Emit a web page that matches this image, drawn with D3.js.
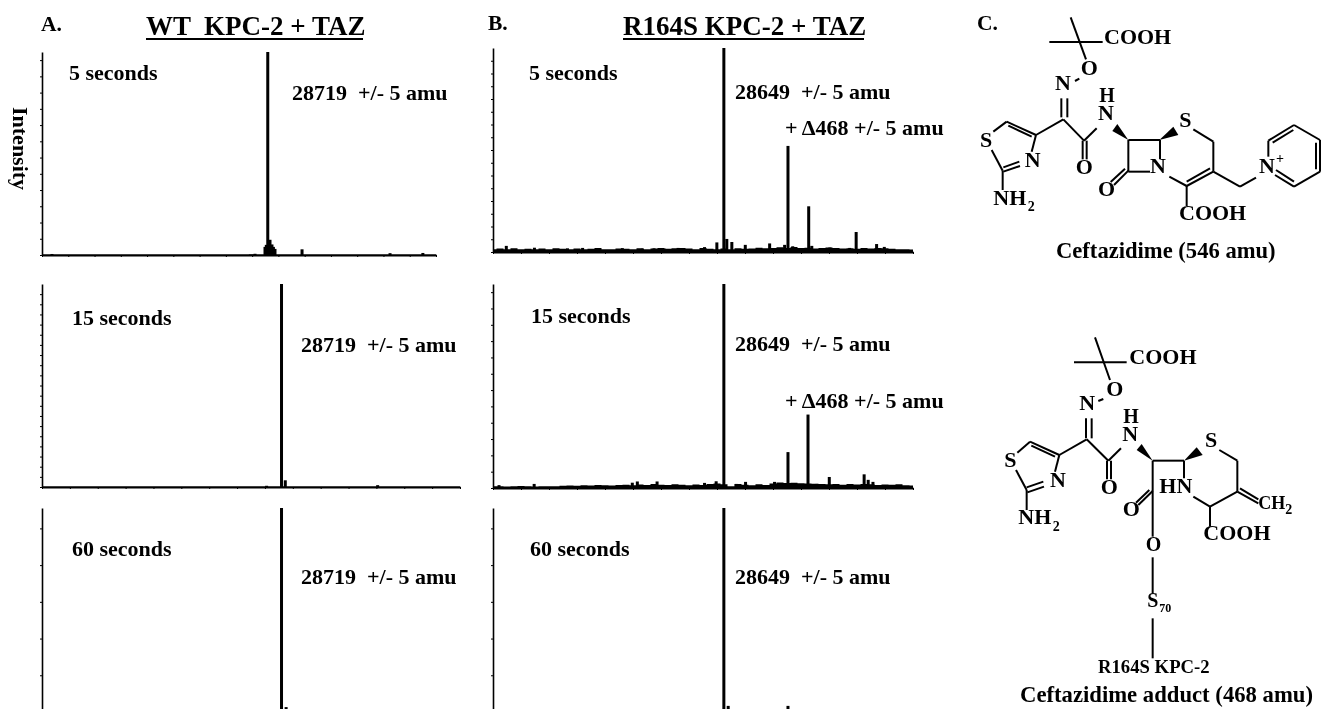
<!DOCTYPE html>
<html>
<head>
<meta charset="utf-8">
<script src="https://cdn.jsdelivr.net/npm/d3@7"></script>
<style>
  html, body { margin: 0; padding: 0; background: #fff; overflow: hidden; }
  svg { display: block; filter: blur(0.4px); }
  text { font-family: "Liberation Serif", serif; font-weight: bold; fill: #000; white-space: pre; }
  .axis path, .axis line { stroke: #000; }
  .axis text { display: none; }
</style>
</head>
<body>
<div id="chart"></div>
<script>
// peaks are [mass in amu, % of the tallest peak]
var peaksA5 = [[27076,0.5],[28622,0.6],[28698,4],[28708,5],[28719,100],[28736,7.5],[28751,5.2],[28762,4],[28774,3],[28980,2.8],[29650,0.9],[29900,1]];
var peaksA15 = [[28612,0.6],[28719,100],[28746,3.3],[29409,0.9]];
var peaksA60 = [[28719,100],[28752,2.4],[28900,1.4],[29300,1.2]];
var peaksB5 = [[27095,3],[27296,2.1],[27532,1.8],[27640,2],[27924,1.9],[28067,1.6],[28150,1.8],[28225,1.6],[28322,2],
  [28511,2.4],[28599,4.7],[28649,100],[28670,6.4],[28706,4.9],[28802,3.5],[28976,4.2],[29083,3.5],[29107,52],[29141,2.8],
  [29255,22.4],[29277,3],[29406,2.2],[29548,2],[29594,9.8],[29642,1.8],[29740,3.9],[29795,2.5]];
var peaksB15 = [[27043,1.4],[27294,2],[27995,2.6],[28031,3.2],[28172,3.2],[28511,2.5],[28594,3.3],[28649,100],[28738,2],
  [28804,3],[29011,3],[29107,17.6],[29131,2.4],[29250,36],[29313,2],[29402,5.4],[29453,1.5],[29651,6.7],[29680,4],
  [29714,3],[29893,1.2]];
var peaksB60 = [[28649,100],[28680,3],[29107,3]];

// chemical noise floor, one reading per 50 amu from 27000 to 30000
var noiseA5 = [0.2,0.2,0.3,0.2,0.2,0.3,0.2,0.2,0.2,0.3,0.2,0.2,0.3,0.2,0.2,0.2,0.3,0.2,0.2,0.2,0.2,0.3,0.2,0.2,0.2,0.2,0.3,0.2,0.2,0.2,0.3,0.3,0.4,0.3,0.2,0.3,0.2,0.2,0.3,0.2,0.2,0.2,0.3,0.2,0.2,0.3,0.2,0.3,0.2,0.2,0.2,0.3,0.2,0.3,0.2,0.2,0.2,0.3,0.2,0.2,0.2];
var noiseA15 = [0.2,0.2,0.2,0.3,0.2,0.2,0.2,0.2,0.3,0.2,0.2,0.2,0.2,0.2,0.3,0.2,0.2,0.2,0.2,0.2,0.3,0.2,0.2,0.2,0.2,0.3,0.2,0.2,0.2,0.2,0.2,0.2,0.3,0.2,0.2,0.2,0.2,0.3,0.2,0.2,0.2,0.2,0.2,0.3,0.2,0.2,0.2,0.2,0.3,0.2,0.2,0.2,0.2,0.2,0.3,0.2,0.2,0.2,0.2,0.2,0.2];
var noiseA60 = [1.2,1.4,1.5,1.4,1.2,1.4,1.5,1.2,1.3,1.5,1.2,1.5,1.4,1.2,1.5,1.3,1.2,1.5,1.4,1.2,1.2,1.5,1.4,1.2,1.5,1.3,1.2,1.5,1.3,1.2,1.5,1.5,1.4,1.5,1.5,1.4,1.2,1.5,1.5,1.3,1.2,1.5,1.4,1.2,1.5,1.5,1.2,1.3,1.5,1.4,1.2,1.5,1.3,1.2,1.5,1.4,1.2,1.5,1.3,1.2,1.2];
var noiseB5 = [1.3,1.7,1.4,1.8,1.3,1.6,1.4,1.7,1.3,1.8,1.6,1.3,1.7,1.4,1.6,1.9,1.4,1.3,1.7,1.6,1.3,1.8,1.4,1.7,1.9,1.6,1.8,2,1.7,1.4,1.9,1.6,1.4,1.7,1.3,1.8,1.6,1.7,2.1,1.8,1.9,2.3,2,2.4,1.9,2.1,1.7,2,2.2,1.9,1.7,1.8,1.6,1.9,1.7,2,1.8,1.6,1.4,1.3,1.2];
var noiseB15 = [0.8,0.9,0.7,0.8,1,0.8,0.7,0.9,0.8,0.9,1.1,1.2,1.1,1.4,1.2,1.5,1.3,1.2,1.5,1.6,1.4,1.7,1.5,1.9,1.6,1.5,1.8,1.6,1.4,1.7,1.5,1.9,2.2,1.8,0.9,1.9,1.6,1.4,1.8,1.5,2.2,2.7,2.4,2.6,2.3,2.2,2.1,1.9,1.8,2,1.6,1.9,1.7,2,1.8,1.5,1.7,1.6,1.8,1.4,1.2];
var noiseB60 = [1.2,1.5,1.4,1.2,1.5,1.4,1.2,1.5,1.4,1.2,1.5,1.4,1.5,1.2,1.4,1.5,1.2,1.5,1.4,1.2,1.5,1.5,1.4,1.2,1.5,1.5,1.4,1.2,1.5,1.4,1.2,1.5,1.5,1.4,1.2,1.5,1.4,1.5,1.2,1.4,1.5,1.5,1.2,1.4,1.5,1.5,1.4,1.2,1.5,1.5,1.4,1.2,1.5,1.4,1.5,1.2,1.4,1.5,1.2,1.4,1.2];

var massTicks = d3.range(27000, 30001, 200);
var noiseMasses = d3.range(27000, 30001, 50);

// layout of each spectrum: left/right of the mass axis, baseline, top of the tallest peak
var panels = [
  {peaks: peaksA5, noise: noiseA5, left: 42, right: 436, base: 255, top: 52, yStep: 8, w: 3},
  {peaks: peaksA15, noise: noiseA15, left: 42, right: 460, base: 487, top: 284, yStep: 5, w: 3},
  {peaks: peaksA60, noise: noiseA60, left: 42, right: 460, base: 712, top: 508, yStep: 18, w: 3},
  {peaks: peaksB5, noise: noiseB5, left: 493, right: 913, base: 252, top: 48, yStep: 6.25, w: 3},
  {peaks: peaksB15, noise: noiseB15, left: 493, right: 913, base: 488, top: 284, yStep: 8, w: 3},
  {peaks: peaksB60, noise: noiseB60, left: 493, right: 913, base: 712, top: 508, yStep: 18, w: 3}
];

var labels = [
  ['A.', 41, 31, 21.5], ['B.', 488, 30, 21.5], ['C.', 977, 30, 21.5],
  ['WT  KPC-2 + TAZ', 146, 35, 27], ['R164S KPC-2 + TAZ', 623, 35, 27],
  ['5 seconds', 69, 80, 22], ['28719  +/- 5 amu', 292, 100, 22],
  ['15 seconds', 72, 325, 22], ['28719  +/- 5 amu', 301, 352, 22],
  ['60 seconds', 72, 556, 22], ['28719  +/- 5 amu', 301, 584, 22],
  ['5 seconds', 529, 80, 22], ['28649  +/- 5 amu', 735, 99, 22], ['+ \u0394468 +/- 5 amu', 785, 135, 22],
  ['15 seconds', 531, 323, 22], ['28649  +/- 5 amu', 735, 351, 22], ['+ \u0394468 +/- 5 amu', 785, 408, 22],
  ['60 seconds', 530, 556, 22], ['28649  +/- 5 amu', 735, 584, 22],
  ['Ceftazidime (546 amu)', 1056, 258, 22.6], ['Ceftazidime adduct (468 amu)', 1020, 702, 22.7],
  ['R164S KPC-2', 1098, 673, 18.7]
];
var titleRules = [[146, 363, 39], [623, 864, 39]];

// ceftazidime drawing, bonds as [x1,y1,x2,y2] in 3x units from the structure's corner
var bondsFree = [
  [332,52,378,178],[268,126,428,126],[345,243,358,236],[304,295,304,352],[322,295,322,352],
  [100,395,140,365],[140,365,228,405],[145,377,215,410],[228,405,215,455],[130,502,178,485],[130,515,180,498],
  [95,450,128,512],[128,512,128,570],[228,405,310,358],[310,358,372,422],[368,422,368,478],[380,422,380,478],
  [372,422,410,385],[505,420,600,420],[505,420,505,515],[600,420,600,478],[505,515,570,515],[505,512,462,555],[495,506,452,546],
  [700,388,760,425],[760,425,760,515],[760,515,680,558],[750,505,680,545],[680,558,628,530],[680,558,680,618],
  [760,515,840,560],[840,560,888,533],[925,422,925,470],[925,422,1002,375],[1002,375,1080,420],[1080,420,1080,515],
  [1080,515,1002,560],[1002,560,945,525],[938,428,1000,390],[1068,428,1068,508],[948,510,1002,545]
];
var wedgesFree = [[505,420,457,393,472,372],[598,420,640,380,655,405]];
var atomsFree = [
  ['COOH',432,132,66],['O',362,224,66],['N',285,269,66],['H',418,307,60],['N',414,360,66],['S',60,441,66],['N',194,500,66],
  ['NH',100,614,66],['O',347,522,66],['O',414,587,66],['N',570,520,66],['S',658,381,66],['COOH',657,660,66],['N',897,520,66],
  ['+',948,490,42],['2',203,632,42]
];

var bondsAdduct = [
  [405,22,450,150],[342,97,500,97],[415,213,430,207],[378,265,378,325],[395,265,395,325],
  [172,368,210,335],[210,335,298,375],[214,347,285,380],[298,375,285,425],[200,472,250,455],[202,487,252,470],
  [168,420,200,480],[200,480,200,540],[298,375,380,328],[380,328,445,392],[441,392,441,448],[453,392,453,448],[445,392,483,355],
  [578,392,672,392],[672,392,672,445],[778,360,832,392],[832,392,832,485],[700,500,750,530],[750,530,832,485],
  [832,485,895,520],[840,475,895,508],[750,530,750,590],[578,392,578,620],[578,483,535,525],[568,480,528,518],
  [578,682,578,790],[578,865,578,985]
];
var wedgesAdduct = [[578,392,530,360,545,342],[672,392,710,352,728,375]];
var atomsAdduct = [
  ['COOH',508,103,66],['O',439,197,66],['N',358,240,66],['H',490,278,60],['N',487,332,66],['S',133,410,66],['N',270,472,66],
  ['NH',175,583,66],['2',278,603,42],['O',422,493,66],['O',488,558,66],['HN',598,490,66],['S',735,352,66],['CH',895,537,54],['2',976,553,42],
  ['COOH',730,630,66],['O',557,662,60],['S',562,830,60],['70',598,847,36]
];

var svg = d3.select('#chart').append('svg')
  .attr('width', 1323)
  .attr('height', 709);

panels.forEach(function(p) {
  var x = d3.scaleLinear().domain([27000, 30000]).range([p.left, p.right]);
  var y = d3.scaleLinear().domain([0, 100]).range([p.base, p.top]);
  var g = svg.append('g');

  g.append('g')
    .attr('class', 'axis')
    .attr('transform', 'translate(' + p.left + ',0)')
    .call(d3.axisLeft(y).tickValues(d3.range(0, 100, p.yStep)).tickSize(2).tickSizeOuter(0))
    .selectAll('path').attr('stroke-width', 1.6);

  g.append('g')
    .attr('class', 'axis')
    .attr('transform', 'translate(0,' + p.base + ')')
    .call(d3.axisBottom(x).tickValues(massTicks).tickSize(2).tickSizeOuter(0))
    .selectAll('path').attr('stroke-width', 2);

  var floor = d3.area()
    .x(function(d, i) { return x(noiseMasses[i]); })
    .y0(y(0))
    .y1(function(d) { return y(d); })
    .curve(d3.curveStep);
  g.append('path').datum(p.noise).attr('d', floor).attr('fill', '#000');

  g.selectAll('.peak')
    .data(p.peaks)
    .enter()
    .append('rect')
      .attr('class', 'peak')
      .attr('x', function(d) { return x(d[0]) - p.w / 2; })
      .attr('y', function(d) { return y(d[1]); })
      .attr('width', p.w)
      .attr('height', function(d) { return y(0) - y(d[1]); })
      .attr('fill', '#000');
});

svg.selectAll('.rule')
  .data(titleRules)
  .enter()
  .append('line')
    .attr('class', 'rule')
    .attr('x1', function(d) { return d[0]; })
    .attr('x2', function(d) { return d[1]; })
    .attr('y1', function(d) { return d[2]; })
    .attr('y2', function(d) { return d[2]; })
    .attr('stroke', '#000')
    .attr('stroke-width', 2);

svg.selectAll('.label')
  .data(labels)
  .enter()
  .append('text')
    .attr('class', 'label')
    .attr('x', function(d) { return d[1]; })
    .attr('y', function(d) { return d[2]; })
    .style('font-size', function(d) { return d[3] + 'px'; })
    .text(function(d) { return d[0]; });

svg.append('text')
  .attr('transform', 'translate(13,107) rotate(90)')
  .style('font-size', '22px')
  .text('Intensity');

function drawStructure(originX, originY, bonds, wedges, atoms) {
  var sx = d3.scaleLinear().domain([0, 3]).range([originX, originX + 1]);
  var sy = d3.scaleLinear().domain([0, 3]).range([originY, originY + 1]);
  var g = svg.append('g');

  g.selectAll('line')
    .data(bonds)
    .enter()
    .append('line')
      .attr('x1', function(d) { return sx(d[0]); })
      .attr('y1', function(d) { return sy(d[1]); })
      .attr('x2', function(d) { return sx(d[2]); })
      .attr('y2', function(d) { return sy(d[3]); })
      .attr('stroke', '#000')
      .attr('stroke-width', 2);

  g.selectAll('polygon')
    .data(wedges)
    .enter()
    .append('polygon')
      .attr('points', function(d) {
        return [sx(d[0]) + ',' + sy(d[1]), sx(d[2]) + ',' + sy(d[3]), sx(d[4]) + ',' + sy(d[5])].join(' ');
      })
      .attr('fill', '#000');

  g.selectAll('text')
    .data(atoms)
    .enter()
    .append('text')
      .attr('x', function(d) { return sx(d[1]); })
      .attr('y', function(d) { return sy(d[2]); })
      .style('font-size', function(d) { return d[3] / 3 + 'px'; })
      .text(function(d) { return d[0]; });
}

drawStructure(960, 0, bondsFree, wedgesFree, atomsFree);
drawStructure(960, 330, bondsAdduct, wedgesAdduct, atomsAdduct);
</script>
</body>
</html>
